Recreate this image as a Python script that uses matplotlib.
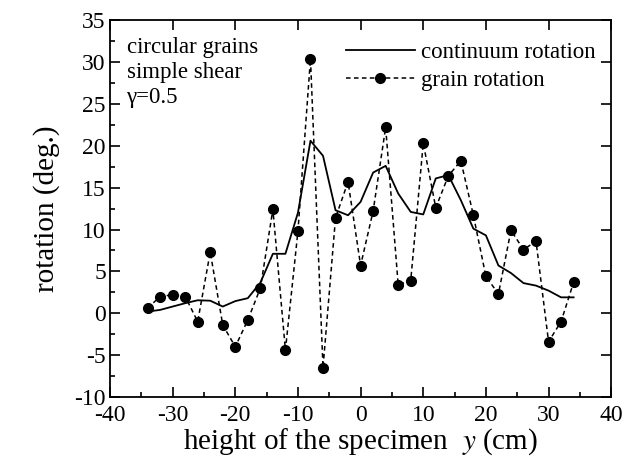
import matplotlib
matplotlib.use("Agg")
import matplotlib.pyplot as plt
from matplotlib.ticker import MultipleLocator

plt.rcParams["font.family"] = ["Liberation Serif", "DejaVu Serif"]
plt.rcParams["mathtext.fontset"] = "stix"
plt.rcParams["axes.unicode_minus"] = False

# grain rotation (deg.) vs height y (cm)
grain_y = [-34, -32, -30, -28, -26, -24, -22, -20, -18, -16, -14, -12, -10, -8, -6, -4, -2, 0,
           2, 4, 6, 8, 10, 12, 14, 16, 18, 20, 22, 24, 26, 28, 30, 32, 34]
grain_rot = [0.6, 2.0, 2.2, 2.0, -1.0, 7.3, -1.4, -4.0, -0.8, 3.0, 12.4, -4.4, 9.8, 30.4, -6.5,
             11.4, 15.7, 5.7, 12.2, 22.2, 3.4, 3.9, 20.3, 12.6, 16.4, 18.2, 11.7, 4.4, 2.3,
             9.9, 7.6, 8.6, -3.4, -1.0, 3.7]

# continuum rotation
cont_y = [-34, -32, -30, -28, -26, -24, -22, -20, -18, -16, -14, -12, -10, -8, -6, -4, -2, 0,
          2, 4, 6, 8, 10, 12, 14, 16, 18, 20, 22, 24, 26, 28, 30, 32, 34]
cont_rot = [0.2, 0.4, 0.8, 1.2, 1.55, 1.5, 0.8, 1.45, 1.8, 3.65, 7.1, 7.1, 12.0, 20.6, 18.8,
            12.3, 11.7, 13.3, 16.8, 17.6, 14.3, 12.1, 11.8, 16.1, 16.5, 13.5, 10.1, 9.3, 5.7,
            4.8, 3.6, 3.3, 2.7, 1.9, 1.9]

fig = plt.figure(figsize=(6.38, 4.68), dpi=100)
ax = fig.add_axes([0.1724, 0.1517, 0.7856, 0.8053])

ax.plot(cont_y, cont_rot, color="black", lw=1.3, label="continuum rotation")
ax.plot(grain_y, grain_rot, color="black", lw=1.1, ls=(0, (3.0, 2.2)), marker="o", ms=7,
        label="grain rotation")

ax.set_xlim(-40, 40)
ax.set_ylim(-10, 35)
ax.xaxis.set_major_locator(MultipleLocator(10))
ax.xaxis.set_minor_locator(MultipleLocator(5))
ax.yaxis.set_major_locator(MultipleLocator(5))
ax.yaxis.set_minor_locator(MultipleLocator(2.5))
ax.tick_params(which="both", direction="in", top=True, right=True, labelsize=17, width=1.2)
ax.tick_params(which="major", length=7)
ax.tick_params(axis="x", which="major", pad=6)
ax.tick_params(axis="y", which="major", pad=3)
ax.tick_params(which="minor", length=3.5, top=False, right=False)
for s in ax.spines.values():
    s.set_linewidth(1.3)

ax.set_xlabel("height of the specimen  $y$ (cm)", fontsize=21, labelpad=0)
ax.set_ylabel("rotation (deg.)", fontsize=21, labelpad=10)

ax.text(0.033, 0.955, "circular grains\nsimple shear\nγ=0.5", transform=ax.transAxes,
        ha="left", va="top", fontsize=16.5, linespacing=1.25)

leg = ax.legend(loc="upper right", frameon=False, fontsize=16.5, handlelength=3.0,
                handletextpad=0.25, labelspacing=0.3, borderaxespad=0.3,
                bbox_to_anchor=(1.0, 0.985))

fig.savefig("out.png", dpi=100, facecolor="white")
